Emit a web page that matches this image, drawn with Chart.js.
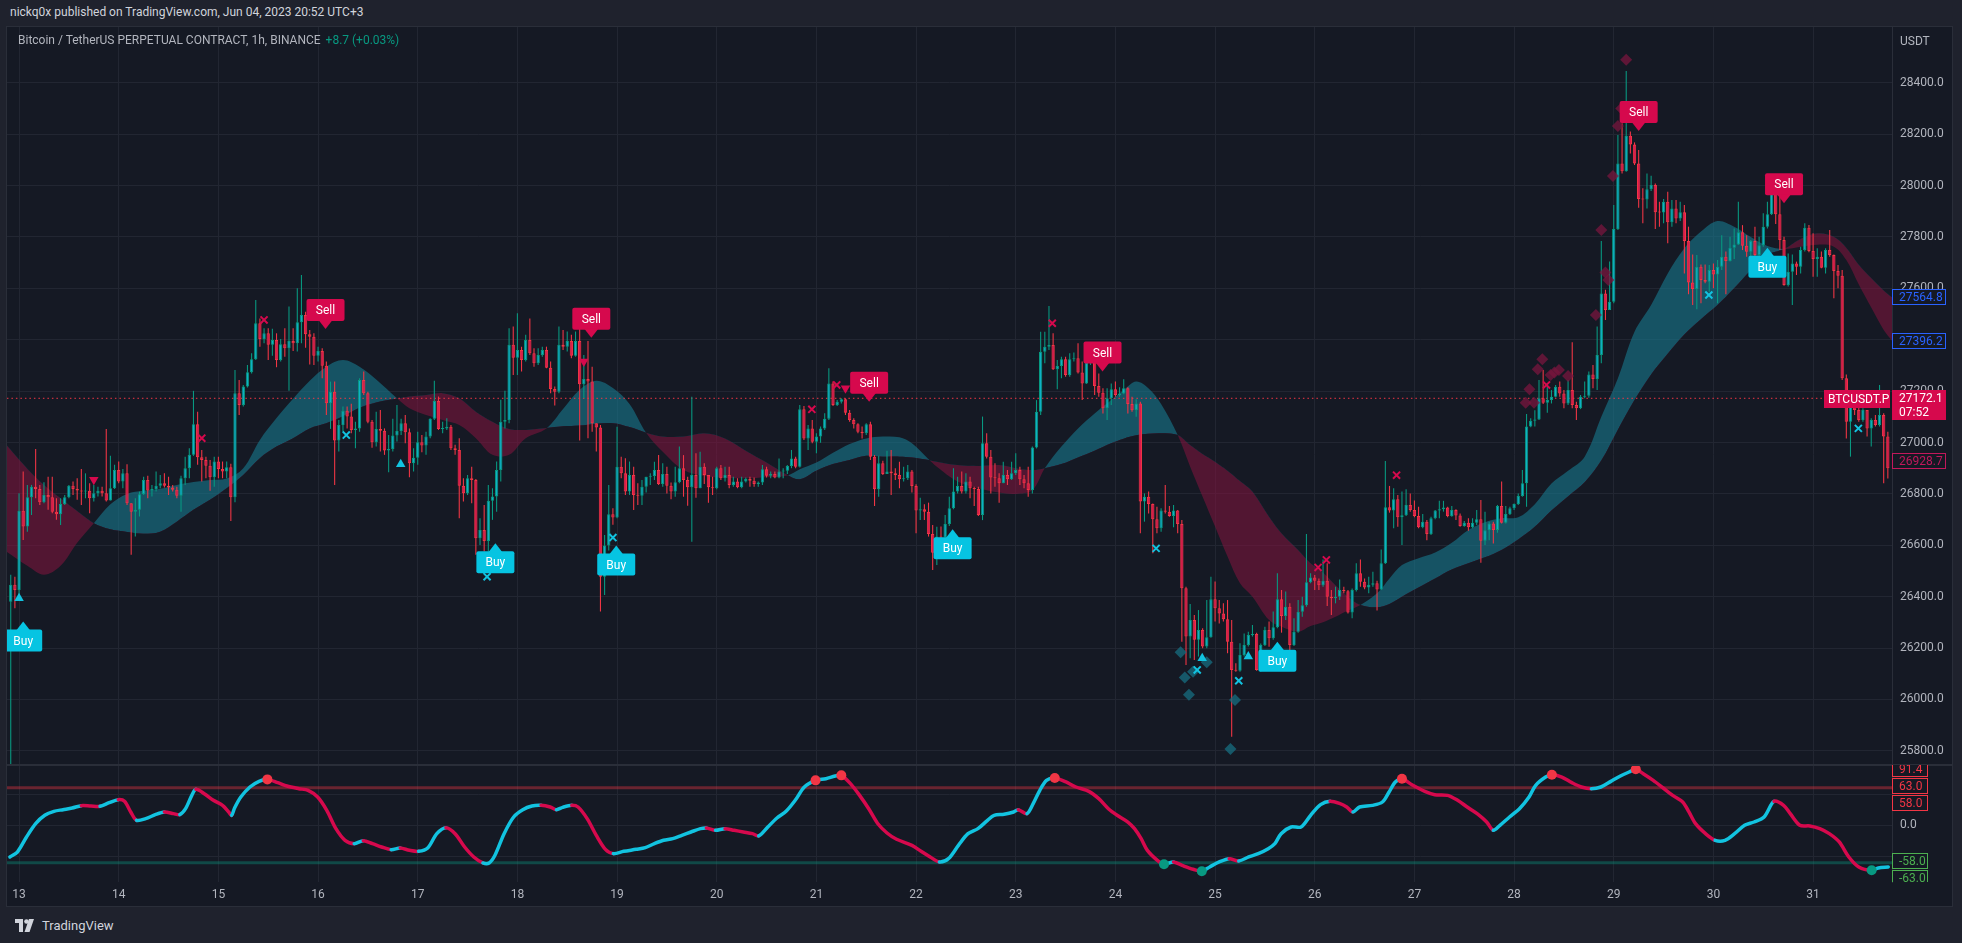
<!DOCTYPE html>
<html>
<head>
<meta charset="utf-8">
<title>BTCUSDT.P 1h</title>
<script src="https://cdn.jsdelivr.net/npm/chart.js@4.4.0/dist/chart.umd.min.js"></script>
<style>
  html, body { margin: 0; padding: 0; width: 1962px; height: 943px; overflow: hidden; background: #1f222d; font-family: Roboto, "Liberation Sans", sans-serif; }
  #header { position: absolute; left: 10px; top: 5px; font-size: 12px; color: #d1d4dc; white-space: nowrap; }
  #panel { position: absolute; left: 7px; top: 27px; width: 1945px; height: 879px; background: #151924; box-shadow: 0 0 0 1px #2a2e39; }
  #panel canvas { position: absolute; left: 0; top: 0; }
  #legend { position: absolute; left: 11px; top: 6px; font-size: 12px; color: #b2b5be; white-space: nowrap; z-index: 2; }
  #legend .chg { color: #089981; margin-left: 5px; }
  #footer { position: absolute; left: 15px; top: 918px; font-size: 13px; color: #d1d4dc; display: flex; align-items: center; gap: 5px; }
</style>
</head>
<body>
<div id="header">nickq0x published on TradingView.com, Jun 04, 2023 20:52 UTC+3</div>
<div id="panel">
  <canvas id="chart" width="1945" height="879"></canvas>
  <div id="legend">Bitcoin / TetherUS PERPETUAL CONTRACT, 1h, BINANCE<span class="chg">+8.7 (+0.03%)</span></div>
</div>
<div id="footer">
  <svg width="22" height="13" viewBox="0 0 22 13"><path d="M0 0h8v13H4V4H0z" fill="#d1d4dc"/><circle cx="11.5" cy="2.5" r="2.3" fill="#d1d4dc"/><path d="M14 0h5l-4.5 13H9.5z" fill="#d1d4dc"/></svg>
  <span>TradingView</span>
</div>
<script>
// hourly candles, first one is at hour -2 (hours counted from May 13 00:00)
const startHour = -2;
const firstOpen = 26380;
const closes = [
  26446, 26426, 26734, 26673, 26787, 26828, 26819, 26768, 26796, 26787, 26731, 26721,
  26761, 26787, 26832, 26819, 26813, 26809, 26812, 26783, 26803, 26812, 26803, 26774,
  26822, 26893, 26848, 26880, 26764, 26731, 26738, 26799, 26854, 26813, 26819, 26832,
  26841, 26832, 26825, 26816, 26793, 26861, 26900, 26952, 27071, 26943, 26932, 26910,
  26865, 26926, 26897, 26887, 26904, 26787, 27192, 27146, 27218, 27273, 27324, 27464,
  27403, 27425, 27380, 27399, 27321, 27382, 27367, 27395, 27386, 27468, 27496, 27421,
  27412, 27338, 27356, 27299, 27153, 27198, 27008, 27068, 27124, 27101, 27049, 27055,
  27243, 27192, 27081, 27001, 27053, 27046, 26969, 26975, 27027, 27045, 27075, 27040,
  26919, 26941, 27001, 26988, 27023, 27092, 27162, 27053, 27055, 27061, 26978, 26971,
  26832, 26803, 26861, 26854, 26627, 26660, 26617, 26773, 26790, 26893, 27081, 27088,
  27380, 27330, 27360, 27321, 27399, 27347, 27308, 27341, 27360, 27291, 27208, 27198,
  27380, 27373, 27395, 27338, 27395, 27227, 27247, 27237, 27075, 27058, 26478, 26599,
  26721, 26708, 26906, 26880, 26809, 26874, 26796, 26793, 26828, 26867, 26870, 26893,
  26839, 26877, 26832, 26809, 26845, 26900, 26854, 26826, 26874, 26822, 26906, 26874,
  26826, 26822, 26900, 26861, 26874, 26835, 26848, 26826, 26848, 26858, 26851, 26839,
  26844, 26896, 26871, 26877, 26864, 26887, 26890, 26909, 26938, 26906, 27129, 27016,
  27055, 27003, 27023, 27055, 27092, 27230, 27146, 27159, 27168, 27116, 27088, 27071,
  27042, 27036, 27071, 26945, 26818, 26919, 26877, 26887, 26880, 26874, 26857, 26861,
  26887, 26831, 26735, 26740, 26731, 26644, 26571, 26634, 26630, 26683, 26744, 26809,
  26831, 26809, 26848, 26822, 26819, 26718, 26997, 26945, 26864, 26861, 26841, 26874,
  26857, 26880, 26893, 26857, 26841, 26815, 26981, 27120, 27353, 27373, 27379, 27285,
  27298, 27324, 27263, 27324, 27328, 27272, 27230, 27311, 27315, 27220, 27194, 27133,
  27172, 27207, 27185, 27191, 27211, 27150, 27126, 27152, 26770, 26789, 26761, 26701,
  26666, 26735, 26731, 26714, 26735, 26683, 26433, 26245, 26309, 26232, 26270, 26206,
  26242, 26390, 26355, 26335, 26312, 26225, 26115, 26112, 26173, 26212, 26251, 26255,
  26115, 26212, 26270, 26238, 26281, 26390, 26325, 26361, 26212, 26264, 26341, 26367,
  26456, 26475, 26462, 26445, 26462, 26400, 26394, 26400, 26426, 26421, 26338, 26426,
  26491, 26458, 26436, 26446, 26452, 26428, 26530, 26748, 26735, 26779, 26709, 26717,
  26757, 26737, 26714, 26670, 26692, 26644, 26705, 26735, 26740, 26747, 26714, 26737,
  26716, 26675, 26688, 26670, 26688, 26701, 26618, 26659, 26685, 26660, 26753, 26688,
  26722, 26744, 26761, 26792, 26841, 27062, 27085, 27090, 27172, 27155, 27165, 27178,
  27217, 27191, 27152, 27204, 27146, 27133, 27178, 27182, 27265, 27247, 27341, 27580,
  27516, 27548, 27831, 28086, 28056, 28194, 28160, 28086, 27948, 27946, 27986, 28002,
  27896, 27895, 27937, 27857, 27911, 27872, 27896, 27784, 27623, 27597, 27684, 27632,
  27626, 27671, 27654, 27684, 27723, 27706, 27758, 27771, 27818, 27766, 27742, 27784,
  27730, 27768, 27840, 27888, 28008, 27888, 27788, 27613, 27665, 27697, 27684, 27749,
  27836, 27745, 27714, 27723, 27680, 27749, 27730, 27667, 27649, 27250, 27081, 27146,
  27127, 27088, 27127, 27055, 27088, 27068, 27107, 27023, 26900
];
const highs = [
  26485, 26478, 26803, 26887, 26835, 26835, 26975, 26835, 26845, 26867, 26867, 26783,
  26783, 26796, 26835, 26848, 26861, 26897, 26880, 26841, 26835, 26828, 26828, 27053,
  26948, 26913, 26926, 26897, 26915, 26764, 26783, 26809, 26867, 26871, 26835, 26887,
  26874, 26880, 26867, 26835, 26828, 26871, 26945, 26978, 27201, 27120, 26971, 26945,
  26932, 26945, 26945, 26926, 26926, 26917, 27282, 27243, 27224, 27302, 27347, 27555,
  27483, 27445, 27445, 27443, 27425, 27403, 27445, 27529, 27445, 27600, 27652, 27509,
  27438, 27425, 27373, 27367, 27315, 27237, 27237, 27088, 27140, 27140, 27151, 27081,
  27250, 27276, 27198, 27088, 27120, 27127, 27055, 27029, 27092, 27146, 27092, 27107,
  27055, 26978, 27042, 27029, 27042, 27094, 27240, 27179, 27081, 27094, 27068, 26991,
  27017, 26861, 26874, 26906, 26858, 26705, 26757, 26835, 26822, 26926, 27166, 27201,
  27445, 27451, 27503, 27373, 27419, 27483, 27367, 27367, 27373, 27373, 27315, 27218,
  27451, 27438, 27432, 27419, 27432, 27477, 27341, 27395, 27295, 27075, 27068, 26640,
  26835, 26744, 27061, 26945, 26939, 26926, 26906, 26841, 26854, 26867, 26880, 26925,
  26951, 26919, 26906, 26844, 26906, 26984, 26951, 26867, 27178, 26958, 26964, 26919,
  26874, 26867, 26906, 26912, 26906, 26906, 26867, 26861, 26867, 26864, 26867, 26864,
  26848, 26912, 26906, 26887, 26887, 26938, 26900, 26912, 26971, 26945, 27146, 27142,
  27068, 27088, 27036, 27062, 27114, 27289, 27237, 27165, 27172, 27172, 27127, 27094,
  27075, 27062, 27075, 27081, 26951, 26948, 26929, 26968, 26971, 26900, 26925, 26906,
  26912, 26893, 26838, 26785, 26760, 26766, 26679, 26672, 26673, 26718, 26789, 26900,
  26867, 26887, 26880, 26867, 26828, 26828, 27101, 27036, 26971, 26919, 26880, 26925,
  26893, 26925, 26958, 26906, 26874, 26906, 26984, 27165, 27431, 27431, 27531, 27425,
  27321, 27334, 27334, 27347, 27350, 27386, 27315, 27366, 27334, 27321, 27269, 27211,
  27211, 27230, 27237, 27215, 27246, 27215, 27178, 27168, 27159, 26802, 26809, 26763,
  26750, 26744, 26835, 26753, 26757, 26737, 26698, 26439, 26372, 26329, 26348, 26277,
  26387, 26478, 26459, 26387, 26374, 26387, 26309, 26141, 26219, 26257, 26264, 26290,
  26260, 26218, 26283, 26303, 26342, 26491, 26426, 26420, 26374, 26316, 26387, 26400,
  26644, 26491, 26484, 26471, 26545, 26530, 26426, 26439, 26467, 26439, 26426, 26432,
  26530, 26545, 26471, 26478, 26497, 26462, 26584, 26928, 26831, 26822, 26796, 26809,
  26818, 26802, 26774, 26750, 26722, 26698, 26711, 26737, 26773, 26773, 26750, 26753,
  26740, 26724, 26695, 26705, 26705, 26737, 26776, 26731, 26692, 26692, 26757, 26848,
  26753, 26750, 26763, 26802, 26893, 27111, 27094, 27126, 27243, 27282, 27230, 27204,
  27224, 27237, 27204, 27243, 27390, 27159, 27185, 27237, 27276, 27302, 27451, 27784,
  27594, 27704, 27924, 28197, 28242, 28446, 28210, 28168, 28138, 27989, 28047, 28038,
  28008, 27937, 27948, 27976, 27944, 27944, 27937, 27924, 27840, 27732, 27730, 27693,
  27693, 27691, 27697, 27710, 27807, 27743, 27801, 27833, 27937, 27846, 27807, 27788,
  27840, 27801, 27892, 27937, 28034, 28021, 28010, 27801, 27736, 27732, 27704, 27762,
  27853, 27846, 27814, 27756, 27743, 27756, 27827, 27732, 27691, 27671, 27265, 27172,
  27159, 27139, 27133, 27127, 27094, 27107, 27224, 27114, 27042
];
const lows = [
  25700, 26355, 26400, 26621, 26653, 26718, 26783, 26757, 26764, 26738, 26725, 26699,
  26679, 26757, 26783, 26796, 26777, 26757, 26783, 26725, 26770, 26790, 26790, 26770,
  26774, 26819, 26841, 26822, 26757, 26563, 26634, 26712, 26796, 26783, 26790, 26809,
  26822, 26825, 26796, 26809, 26783, 26731, 26835, 26861, 26948, 26913, 26848, 26861,
  26812, 26828, 26861, 26861, 26861, 26695, 26768, 27107, 27140, 27214, 27269, 27321,
  27373, 27386, 27321, 27338, 27293, 27315, 27334, 27201, 27356, 27354, 27386, 27369,
  27304, 27302, 27315, 27250, 27107, 27053, 26835, 26965, 27042, 27055, 27036, 26978,
  27042, 27185, 27075, 26980, 26984, 26965, 26952, 26884, 26965, 27004, 27029, 26997,
  26865, 26887, 26913, 26962, 26952, 27017, 27088, 27049, 27036, 27049, 26971, 26952,
  26705, 26770, 26796, 26764, 26563, 26601, 26576, 26576, 26699, 26731, 26848, 27055,
  27075, 27263, 27263, 27276, 27315, 27341, 27295, 27302, 27334, 27289, 27192, 27144,
  27192, 27360, 27354, 27328, 27334, 27008, 27172, 27017, 27042, 26965, 26342, 26407,
  26580, 26680, 26705, 26861, 26796, 26796, 26737, 26757, 26757, 26805, 26835, 26854,
  26835, 26828, 26802, 26779, 26789, 26841, 26789, 26754, 26614, 26785, 26822, 26839,
  26766, 26796, 26818, 26854, 26848, 26822, 26828, 26822, 26822, 26844, 26828, 26828,
  26828, 26835, 26864, 26861, 26861, 26861, 26861, 26877, 26900, 26900, 26903, 27010,
  26971, 26997, 26958, 26999, 27049, 27088, 27142, 27142, 27152, 27107, 27081, 27055,
  27036, 27016, 27029, 26932, 26753, 26789, 26874, 26877, 26796, 26854, 26822, 26848,
  26854, 26805, 26647, 26698, 26698, 26634, 26504, 26523, 26621, 26630, 26675, 26740,
  26802, 26802, 26802, 26783, 26753, 26714, 26698, 26938, 26802, 26828, 26766, 26841,
  26835, 26854, 26874, 26835, 26822, 26789, 26802, 26977, 27107, 27308, 27360, 27282,
  27207, 27250, 27256, 27256, 27315, 27269, 27165, 27228, 27302, 27185, 27178, 27113,
  27088, 27146, 27178, 27178, 27188, 27113, 27120, 27100, 26647, 26692, 26724, 26569,
  26647, 26653, 26724, 26711, 26670, 26647, 26225, 26134, 26160, 26154, 26167, 26199,
  26199, 26240, 26303, 26296, 26303, 26180, 25855, 26108, 26108, 26167, 26206, 26245,
  26112, 26108, 26208, 26205, 26232, 26277, 26260, 26309, 26154, 26208, 26260, 26322,
  26361, 26452, 26426, 26426, 26439, 26364, 26329, 26374, 26387, 26413, 26335, 26316,
  26420, 26439, 26429, 26413, 26439, 26346, 26426, 26527, 26727, 26666, 26672, 26601,
  26714, 26731, 26709, 26666, 26666, 26620, 26640, 26701, 26705, 26731, 26709, 26711,
  26698, 26672, 26672, 26657, 26666, 26679, 26532, 26601, 26620, 26607, 26649, 26685,
  26685, 26718, 26737, 26757, 26789, 26750, 27059, 27062, 27088, 27150, 27116, 27152,
  27175, 27178, 27133, 27146, 27133, 27088, 27130, 27172, 27174, 27211, 27204, 27308,
  27477, 27516, 27542, 27827, 28047, 28054, 28125, 28080, 27914, 27853, 27911, 27979,
  27831, 27840, 27853, 27775, 27840, 27853, 27862, 27658, 27577, 27535, 27519, 27542,
  27620, 27587, 27600, 27542, 27671, 27577, 27704, 27714, 27769, 27749, 27723, 27719,
  27717, 27723, 27762, 27833, 27885, 27850, 27749, 27610, 27607, 27535, 27652, 27658,
  27743, 27740, 27645, 27645, 27678, 27658, 27723, 27561, 27600, 27243, 27016, 26945,
  27107, 27081, 27081, 27023, 26984, 27062, 27062, 26841, 26860
];

// ribbon (fast / slow average) read at these hours
const bandHours = [
  -3, 2, 6, 10, 14, 18,
  22, 26, 30, 34, 38, 42, 46, 50, 54, 58, 62, 66, 70, 74, 78, 82, 86, 91,
  94, 98, 102, 106, 110, 114, 118, 122, 127,
  131, 135, 139, 143, 147, 151,
  155, 160, 165, 170, 175, 180, 185,
  188, 192, 196, 200, 204, 208, 212, 215, 219,
  221, 226, 231, 236, 240, 244, 247,
  251, 255, 259, 263, 266, 269, 272, 275, 279,
  282, 285, 288, 291, 294, 297, 301, 304, 308, 311, 314, 317, 320, 323,
  327, 330, 333, 337, 341, 345, 349, 353, 357, 361, 365, 369, 373, 377, 381, 385, 389, 393, 397, 401, 405, 409, 413, 417, 421, 425,
  429, 433, 437, 440, 443, 446, 449, 451
];
const bandFast = [
  26575, 26520, 26485, 26520, 26610, 26686,
  26760, 26800, 26812, 26820, 26835, 26846, 26854, 26860, 26900, 27010, 27095, 27170, 27240, 27295, 27321, 27295, 27245, 27172,
  27133, 27107, 27088, 27068, 27017, 26952, 26952, 27017, 27055,
  27130, 27205, 27240, 27212, 27150, 27038,
  26964, 26893, 26870, 26863, 26861, 26865, 26872,
  26896, 26922, 26960, 26994, 27016, 27023, 27020, 26997, 26935,
  26906, 26848, 26822, 26805, 26800, 26815, 26900,
  26984, 27055, 27113, 27165, 27204, 27237, 27210, 27150, 27029,
  26906, 26789, 26673, 26556, 26452, 26400, 26309, 26283, 26264, 26286, 26301, 26322, 26346, 26368,
  26413, 26471, 26523, 26550, 26572, 26610, 26660, 26690, 26705, 26709, 26760, 26840, 26890, 26945, 27100, 27250, 27431, 27535, 27658, 27756, 27821, 27862, 27840, 27800, 27765, 27753,
  27762, 27770, 27762, 27710, 27615, 27525, 27438, 27396
];
const bandSlow = [
  26990, 26898, 26835, 26783, 26733, 26686,
  26662, 26652, 26645, 26653, 26692, 26738, 26777, 26822, 26874, 26939, 26984, 27017, 27055, 27075, 27102, 27135, 27156, 27171,
  27179, 27185, 27192, 27172, 27120, 27081, 27053, 27049, 27056,
  27063, 27066, 27073, 27075, 27060, 27038,
  27023, 27023, 27036, 27016, 26968, 26922, 26874,
  26857, 26890, 26916, 26932, 26948, 26945, 26945, 26942, 26932,
  26925, 26912, 26909, 26912, 26900, 26893, 26900,
  26916, 26942, 26968, 26997, 27015, 27028, 27034, 27036, 27029,
  26990, 26955, 26925, 26890, 26850, 26809, 26711, 26647, 26582, 26530, 26493, 26445, 26400, 26368,
  26359, 26372, 26400, 26436, 26471, 26506, 26530, 26553, 26582, 26623, 26672, 26735, 26790, 26845, 26930, 27050, 27165, 27265, 27345, 27420, 27480, 27535, 27600, 27670, 27730, 27753,
  27792, 27814, 27801, 27758, 27692, 27640, 27592, 27565
];

// oscillator in the lower pane
const oscHours = [
  -2.2, -0.4, 1.8, 4.0, 6.2, 8.4, 10.6, 12.8, 15.0, 17.3, 19.5, 21.7, 23.9, 25.4, 26.9, 28.3, 30.5, 32.8, 35.0, 37.2,
  38.7, 40.1, 41.6, 42.6, 44.6, 46.8, 49.0, 50.5, 51.2, 51.9, 53.4, 55.6, 57.8, 59.8, 62.3, 64.5, 67.4, 69.6, 71.9, 74.1,
  76.3, 78.5, 80.7, 82.9, 85.1, 87.3, 89.6, 91.8, 94.0, 96.2, 98.4, 100.6, 102.8, 105.0, 107.3, 109.5, 111.7, 113.2, 114.6, 116.8,
  119.1, 121.3, 123.5, 125.7, 127.9, 129.4, 130.9, 133.1, 134.6, 136.8, 139.0, 141.2, 143.1, 145.6, 148.6, 150.8, 153.0, 155.2, 157.4, 159.6,
  161.8, 164.1, 165.5, 167.7, 170.0, 172.2, 174.4, 176.6, 178.1, 180.3, 182.5, 184.7, 186.9, 189.1, 191.8, 194.3, 196.5, 198.0, 200.2, 202.4,
  204.6, 206.8, 209.0, 211.3, 215.0, 217.2, 219.4, 221.6, 223.8, 226.2, 228.5, 230.9, 233.2, 234.8, 237.2, 239.5, 240.6, 242.7, 244.2, 245.8,
  247.4, 249.4, 252.1, 254.5, 257.6, 260.0, 262.3, 264.7, 267.0, 268.6, 270.2, 271.7, 274.1, 275.7, 278.0, 280.4, 282.7, 284.8, 286.7, 289.0,
  291.4, 293.7, 296.1, 298.4, 300.8, 302.4, 303.9, 306.3, 308.7, 311.0, 313.4, 315.7, 318.1, 319.7, 321.2, 322.8, 325.9, 328.3, 329.9, 331.4,
  333.0, 335.4, 338.5, 340.9, 344.0, 346.4, 348.7, 351.1, 353.4, 355.0, 356.6, 358.9, 361.3, 363.6, 365.2, 367.6, 369.1, 371.5, 373.9, 376.2,
  378.6, 380.9, 383.3, 385.6, 387.7, 389.3, 391.1, 393.5, 395.9, 398.2, 400.6, 402.1, 403.7, 406.1, 408.4, 410.8, 413.1, 415.5, 417.8, 420.2,
  422.6, 424.9, 426.5, 428.8, 431.2, 433.6, 435.9, 438.3, 440.6, 443.0, 446.1, 447.7, 450.1
];
const oscValues = [
  -51.1, -43.1, -18.9, 2.6, 16.1, 22.5, 25.2, 27.9, 31.7, 31.1, 30.6, 36.5, 41.4, 38.7, 21.5, 8.0, 10.7, 17.2, 21.5, 18.8,
  17.2, 26.8, 48.3, 58.0, 51.0, 40.3, 32.2, 21.5, 16.1, 27.9, 45.6, 61.8, 70.9, 74.1, 68.8, 63.4, 59.1, 56.4, 45.6, 24.1,
  -5.4, -24.2, -29.6, -24.8, -29.6, -35.0, -39.3, -36.6, -40.4, -42.0, -36.6, -13.5, -3.8, -13.5, -35.0, -51.1, -60.8, -60.8, -48.4, -13.5,
  13.4, 25.2, 31.1, 32.2, 29.5, 25.2, 29.0, 32.2, 29.5, 10.7, -16.2, -38.8, -45.7, -42.0, -38.8, -36.1, -29.6, -24.2, -21.5, -16.2,
  -10.8, -5.4, -4.3, -8.1, -5.4, -8.1, -10.8, -13.5, -17.2, -2.7, 11.8, 22.5, 40.3, 61.8, 72.5, 75.2, 79.5, 80.6, 67.2, 48.3,
  26.8, 2.6, -12.4, -22.6, -32.3, -42.0, -51.1, -59.2, -53.8, -32.3, -13.5, -5.4, 8.0, 16.1, 17.7, 21.5, 25.2, 18.8, 34.9, 56.4,
  72.5, 76.3, 69.9, 61.8, 54.8, 43.0, 26.8, 15.0, 5.3, -5.4, -21.5, -40.4, -56.5, -62.9, -59.2, -65.6, -71.0, -74.2, -67.2, -59.2,
  -53.8, -57.6, -51.1, -45.7, -37.7, -29.6, -13.5, -2.7, -2.7, 16.1, 33.3, 38.7, 34.9, 29.5, 21.5, 29.5, 32.2, 37.6, 53.7, 69.8,
  75.2, 65.5, 54.8, 49.4, 48.3, 40.3, 29.5, 18.8, 5.3, -8.1, 0.0, 13.4, 26.8, 45.7, 64.5, 77.9, 81.7, 77.9, 68.8, 61.8,
  59.1, 61.8, 70.9, 79.5, 86.0, 90.3, 83.3, 72.5, 60.2, 48.3, 37.6, 21.5, 2.6, -13.5, -24.2, -24.2, -13.5, 0.0, 5.3, 13.4,
  38.7, 32.2, 18.8, 0.0, -1.1, -5.4, -13.5, -26.9, -51.1, -67.2, -72.6, -68.8, -67.2
];
const oscTopHours = [59.8, 191.8, 198.0, 249.4, 333.0, 369.1, 389.3];
const oscTopValues = [74.1, 72.5, 80.6, 76.3, 75.2, 81.7, 90.3];
const oscBottomHours = [275.7, 284.8, 446.1];
const oscBottomValues = [-62.9, -74.2, -72.6];
const overboughtLevels = [58, 63];
const oversoldLevels = [-58, -63];

// signals on the price pane
const buyHours = [1, 114.7, 143.8, 224.8, 303, 421];
const buyPrices = [26303, 26608, 26599, 26662, 26225, 27758];
const sellHours = [73.8, 137.8, 204.7, 260.9, 390, 425];
const sellPrices = [27442, 27408, 27159, 27276, 28212, 27931];
const crossRedHours = [44, 59, 190.9, 196.9, 248.8, 312.8, 314.8, 331.7, 367.8];
const crossRedPrices = [27017, 27477, 27129, 27224, 27464, 26514, 26543, 26873, 27224];
const crossCyanHours = [78.8, 112.7, 143, 273.8, 283.7, 293.7, 406.9, 442.9];
const crossCyanPrices = [27029, 26478, 26630, 26588, 26115, 26073, 27574, 27055];
const triUpHours = [0, 91.9, 284.9, 296];
const triUpPrices = [26394, 26915, 26160, 26167];
const triDownHours = [18, 136, 199];
const triDownPrices = [26855, 27315, 27211];
const diamondCyanHours = [279.7, 280.7, 281.7, 282.7, 286, 292.8, 291.7];
const diamondCyanPrices = [26184, 26086, 26018, 26108, 26145, 25998, 25807];
const diamondRedHours = [362.8, 363.7, 364.8, 365.7, 366.8, 368.8, 369.7, 370.8, 373, 379.7, 381, 382, 382.7, 383.8, 385, 385.8, 387];
const diamondRedPrices = [27155, 27207, 27155, 27285, 27324, 27263, 27272, 27282, 27259, 27496, 27827, 27662, 27632, 28037, 28232, 28300, 28490];

// axis labels and price tags
const dayLabels = ['13', '14', '15', '16', '17', '18', '19', '20', '21', '22', '23', '24', '25', '26', '27', '28', '29', '30', '31'];
const symbolName = 'BTCUSDT.P';
const lastPrice = 27172.1;
const barCountdown = '07:52';
const bandTags = [27564.8, 27396.2];
const secondaryTag = 26928.7;
const oscRedTags = [91.4, 63.0, 58.0];
const oscGreenTags = [-58.0, -63.0];

const textColor = '#b2b5be';
const gridColor = '#222632';
const upWick = '#089981', downWick = '#f23645';
const upBody = '#0fb0c6', downBody = '#dc1b50';
const cyan = '#12c3e0', crimson = '#d6094d';

const candleHours = closes.map((c, i) => startHour + i);
const opens = closes.map((c, i) => (i === 0 ? firstOpen : closes[i - 1]));
const isUp = closes.map((c, i) => c >= opens[i]);

const wicks = candleHours.map((h, i) => ({x: h, y: [Math.min(lows[i], opens[i], closes[i]), Math.max(highs[i], opens[i], closes[i])]}));
const bodies = candleHours.map((h, i) => ({x: h, y: [opens[i], closes[i]]}));
const pts = (xs, ys) => xs.map((x, i) => ({x, y: ys[i]}));
const flat = v => [{x: -4, y: v}, {x: 452, y: v}];

const tagFont = '12px Roboto, "Liberation Sans", sans-serif';

function drawSignal(ctx, px, py, text, bg, below) {
  const w = 38, h = 22, gap = 8, half = 7;
  const top = below ? py + gap : py - gap - h;
  ctx.fillStyle = bg;
  ctx.beginPath();
  ctx.roundRect(px - w / 2, top, w, h, 2);
  ctx.fill();
  ctx.beginPath();
  const base = below ? top + 1 : top + h - 1;
  ctx.moveTo(px - half, base);
  ctx.lineTo(px, py);
  ctx.lineTo(px + half, base);
  ctx.closePath();
  ctx.fill();
  ctx.fillStyle = '#ffffff';
  ctx.textAlign = 'center';
  ctx.textBaseline = 'middle';
  ctx.fillText(text, px, top + h / 2 + 1);
}

function axisTag(ctx, left, cy, w, h, text, color, filled) {
  const top = Math.round(cy - h / 2);
  if (filled) {
    ctx.fillStyle = color;
    ctx.fillRect(left, top, w, h);
    ctx.fillStyle = '#ffffff';
  } else {
    ctx.fillStyle = '#151924';
    ctx.fillRect(left, top, w, h);
    ctx.strokeStyle = color;
    ctx.lineWidth = 1;
    ctx.strokeRect(left + 0.5, top + 0.5, w - 1, h - 1);
    ctx.fillStyle = color;
  }
  ctx.textAlign = 'left';
  ctx.textBaseline = 'middle';
  ctx.fillText(text, left + 7, top + h / 2 + 1);
}

const overlay = {
  id: 'overlay',
  afterDatasetsDraw(chart) {
    const {ctx} = chart;
    const {x, y} = chart.scales;
    ctx.save();
    ctx.beginPath();
    ctx.rect(x.left, y.top, x.width, y.height);
    ctx.clip();
    ctx.font = tagFont;
    buyHours.forEach((h, i) => drawSignal(ctx, x.getPixelForValue(h), y.getPixelForValue(buyPrices[i]), 'Buy', '#06c4e2', true));
    sellHours.forEach((h, i) => drawSignal(ctx, x.getPixelForValue(h), y.getPixelForValue(sellPrices[i]), 'Sell', crimson, false));
    ctx.restore();
  },
  afterDraw(chart) {
    const {ctx} = chart;
    const {y, y2} = chart.scales;
    ctx.save();
    ctx.font = tagFont;
    // pane separator
    ctx.fillStyle = '#2a2e39';
    ctx.fillRect(0, Math.round(y2.top) - 1, chart.width, 2);
    // currency caption
    ctx.fillStyle = textColor;
    ctx.textAlign = 'left';
    ctx.textBaseline = 'middle';
    ctx.fillText('USDT', y.left + 8, 15);
    const aw = 54;
    bandTags.forEach(v => axisTag(ctx, y.left, y.getPixelForValue(v), aw, 16, v.toFixed(1), '#2962ff', false));
    axisTag(ctx, y.left, y.getPixelForValue(secondaryTag), aw, 16, secondaryTag.toFixed(1), '#c2185b', false);
    const ly = y.getPixelForValue(lastPrice);
    ctx.fillStyle = crimson;
    ctx.fillRect(y.left, Math.round(ly - 8), aw, 30);
    ctx.fillStyle = '#ffffff';
    ctx.fillText(lastPrice.toFixed(1), y.left + 7, ly + 1);
    ctx.fillText(barCountdown, y.left + 7, ly + 15);
    ctx.fillStyle = crimson;
    ctx.fillRect(y.left - 68, Math.round(ly - 8), 66, 18);
    ctx.fillStyle = '#ffffff';
    ctx.fillText(symbolName, y.left - 64, ly + 1.5);
    // oscillator tags, pushed apart so they do not overlap
    ctx.beginPath();
    ctx.rect(y2.left, y2.top, y2.width, y2.height);
    ctx.clip();
    let prevBottom = -Infinity;
    const h = 16;
    oscRedTags.forEach(v => {
      let cy = y2.getPixelForValue(v);
      if (cy - h / 2 < prevBottom) cy = prevBottom + h / 2 + 1;
      axisTag(ctx, y2.left, cy, 36, h, v.toFixed(1), '#f23645', false);
      prevBottom = cy + h / 2;
    });
    prevBottom = -Infinity;
    oscGreenTags.forEach(v => {
      let cy = y2.getPixelForValue(v);
      if (cy - h / 2 < prevBottom) cy = prevBottom + h / 2 + 1;
      axisTag(ctx, y2.left, cy, 36, h, v.toFixed(1), '#4caf50', false);
      prevBottom = cy + h / 2;
    });
    ctx.restore();
  }
};

const lineBase = {type: 'line', pointRadius: 0, borderWidth: 0, tension: 0.35};
const noPadY = s => { s.width = 60; s.paddingTop = 0; s.paddingBottom = 0; };

new Chart(document.getElementById('chart'), {
  type: 'bar',
  data: {
    datasets: [
      // 0, 1: ribbon
      {...lineBase, data: pts(bandHours, bandSlow), yAxisID: 'y', fill: false, order: 20},
      {...lineBase, data: pts(bandHours, bandFast), yAxisID: 'y', order: 19,
        fill: {target: 0, above: 'rgba(22,120,140,0.62)', below: 'rgba(130,20,62,0.56)'}},
      // 2: last price line
      {type: 'line', data: flat(lastPrice), yAxisID: 'y', borderColor: '#f23645', borderWidth: 1, borderDash: [1.5, 3], pointRadius: 0, order: 15},
      // 3, 4: candles
      {type: 'bar', data: wicks, yAxisID: 'y', grouped: false, categoryPercentage: 1, barPercentage: 0.26, maxBarThickness: 1.2,
        backgroundColor: isUp.map(u => (u ? upWick : downWick)), order: 10},
      {type: 'bar', data: bodies, yAxisID: 'y', grouped: false, categoryPercentage: 1, barPercentage: 0.8, minBarLength: 1,
        backgroundColor: isUp.map(u => (u ? upBody : downBody)), borderColor: isUp.map(u => (u ? upWick : downWick)),
        borderWidth: 1, borderSkipped: false, order: 9},
      // markers
      {type: 'scatter', data: pts(diamondCyanHours, diamondCyanPrices), yAxisID: 'y', pointStyle: 'rectRot', pointRadius: 6,
        backgroundColor: 'rgba(23,110,128,0.75)', borderWidth: 0, order: 5},
      {type: 'scatter', data: pts(diamondRedHours, diamondRedPrices), yAxisID: 'y', pointStyle: 'rectRot', pointRadius: 6,
        backgroundColor: 'rgba(120,22,62,0.75)', borderWidth: 0, order: 5},
      {type: 'scatter', data: pts(crossRedHours, crossRedPrices), yAxisID: 'y', pointStyle: 'crossRot', pointRadius: 5,
        borderColor: crimson, borderWidth: 2, order: 4},
      {type: 'scatter', data: pts(crossCyanHours, crossCyanPrices), yAxisID: 'y', pointStyle: 'crossRot', pointRadius: 5,
        borderColor: cyan, borderWidth: 2, order: 4},
      {type: 'scatter', data: pts(triUpHours, triUpPrices), yAxisID: 'y', pointStyle: 'triangle', pointRadius: 5.5,
        backgroundColor: cyan, borderWidth: 0, order: 4},
      {type: 'scatter', data: pts(triDownHours, triDownPrices), yAxisID: 'y', pointStyle: 'triangle', rotation: 180, pointRadius: 5.5,
        backgroundColor: crimson, borderWidth: 0, order: 4},
      // oscillator pane
      {type: 'line', data: flat(overboughtLevels[0]), yAxisID: 'y2', pointRadius: 0, borderWidth: 0, fill: false, order: 8},
      {type: 'line', data: flat(overboughtLevels[1]), yAxisID: 'y2', pointRadius: 0, borderWidth: 0, order: 8,
        fill: {target: 11, above: 'rgba(242,54,69,0.38)', below: 'rgba(242,54,69,0.38)'}},
      {type: 'line', data: flat(oversoldLevels[0]), yAxisID: 'y2', pointRadius: 0, borderWidth: 0, fill: false, order: 8},
      {type: 'line', data: flat(oversoldLevels[1]), yAxisID: 'y2', pointRadius: 0, borderWidth: 0, order: 8,
        fill: {target: 13, above: 'rgba(8,153,129,0.38)', below: 'rgba(8,153,129,0.38)'}},
      {type: 'line', data: pts(oscHours, oscValues), yAxisID: 'y2', pointRadius: 0, borderWidth: 3.5, tension: 0.3,
        borderCapStyle: 'round', borderJoinStyle: 'round', borderColor: cyan,
        segment: {borderColor: c => (c.p1.parsed.y >= c.p0.parsed.y ? cyan : crimson)}, order: 3},
      {type: 'scatter', data: pts(oscTopHours, oscTopValues), yAxisID: 'y2', pointRadius: 5, backgroundColor: '#f23645', borderWidth: 0, order: 2},
      {type: 'scatter', data: pts(oscBottomHours, oscBottomValues), yAxisID: 'y2', pointRadius: 5, backgroundColor: '#089981', borderWidth: 0, order: 2}
    ]
  },
  options: {
    responsive: false,
    animation: false,
    events: [],
    layout: {padding: 0, autoPadding: false},
    plugins: {legend: {display: false}, tooltip: {enabled: false}},
    scales: {
      x: {
        type: 'linear', position: 'bottom', min: -2.9, max: 451, offset: false,
        grid: {color: gridColor, drawTicks: false, offset: false},
        border: {display: false},
        ticks: {
          stepSize: 24, includeBounds: false, autoSkip: false, maxRotation: 0, padding: 6, color: textColor,
          font: {family: 'Roboto', size: 12},
          callback: v => dayLabels[Math.round(v / 24)]
        },
        afterFit: s => { s.height = 24; s.paddingLeft = 0; s.paddingRight = 0; }
      },
      y: {
        type: 'linear', position: 'right', stack: 'panes', stackWeight: 738, min: 25745, max: 28617,
        grid: {color: c => (c.tick && c.tick.value > 28500 ? 'rgba(0,0,0,0)' : gridColor), drawTicks: false},
        border: {color: '#2a2e39'},
        ticks: {stepSize: 200, includeBounds: false, padding: 8, color: textColor, font: {family: 'Roboto', size: 12},
          callback: v => (v > 28500 ? '' : v.toFixed(1))},
        afterFit: noPadY
      },
      y2: {
        type: 'linear', position: 'right', stack: 'panes', stackWeight: 117, min: -91.5, max: 97.3,
        grid: {color: gridColor, drawTicks: false},
        border: {color: '#2a2e39'},
        ticks: {stepSize: 50, includeBounds: false, padding: 8, color: textColor, font: {family: 'Roboto', size: 12},
          callback: v => (v === 0 ? v.toFixed(1) : '')},
        afterFit: noPadY
      }
    }
  },
  plugins: [overlay]
});
</script>
</body>
</html>
